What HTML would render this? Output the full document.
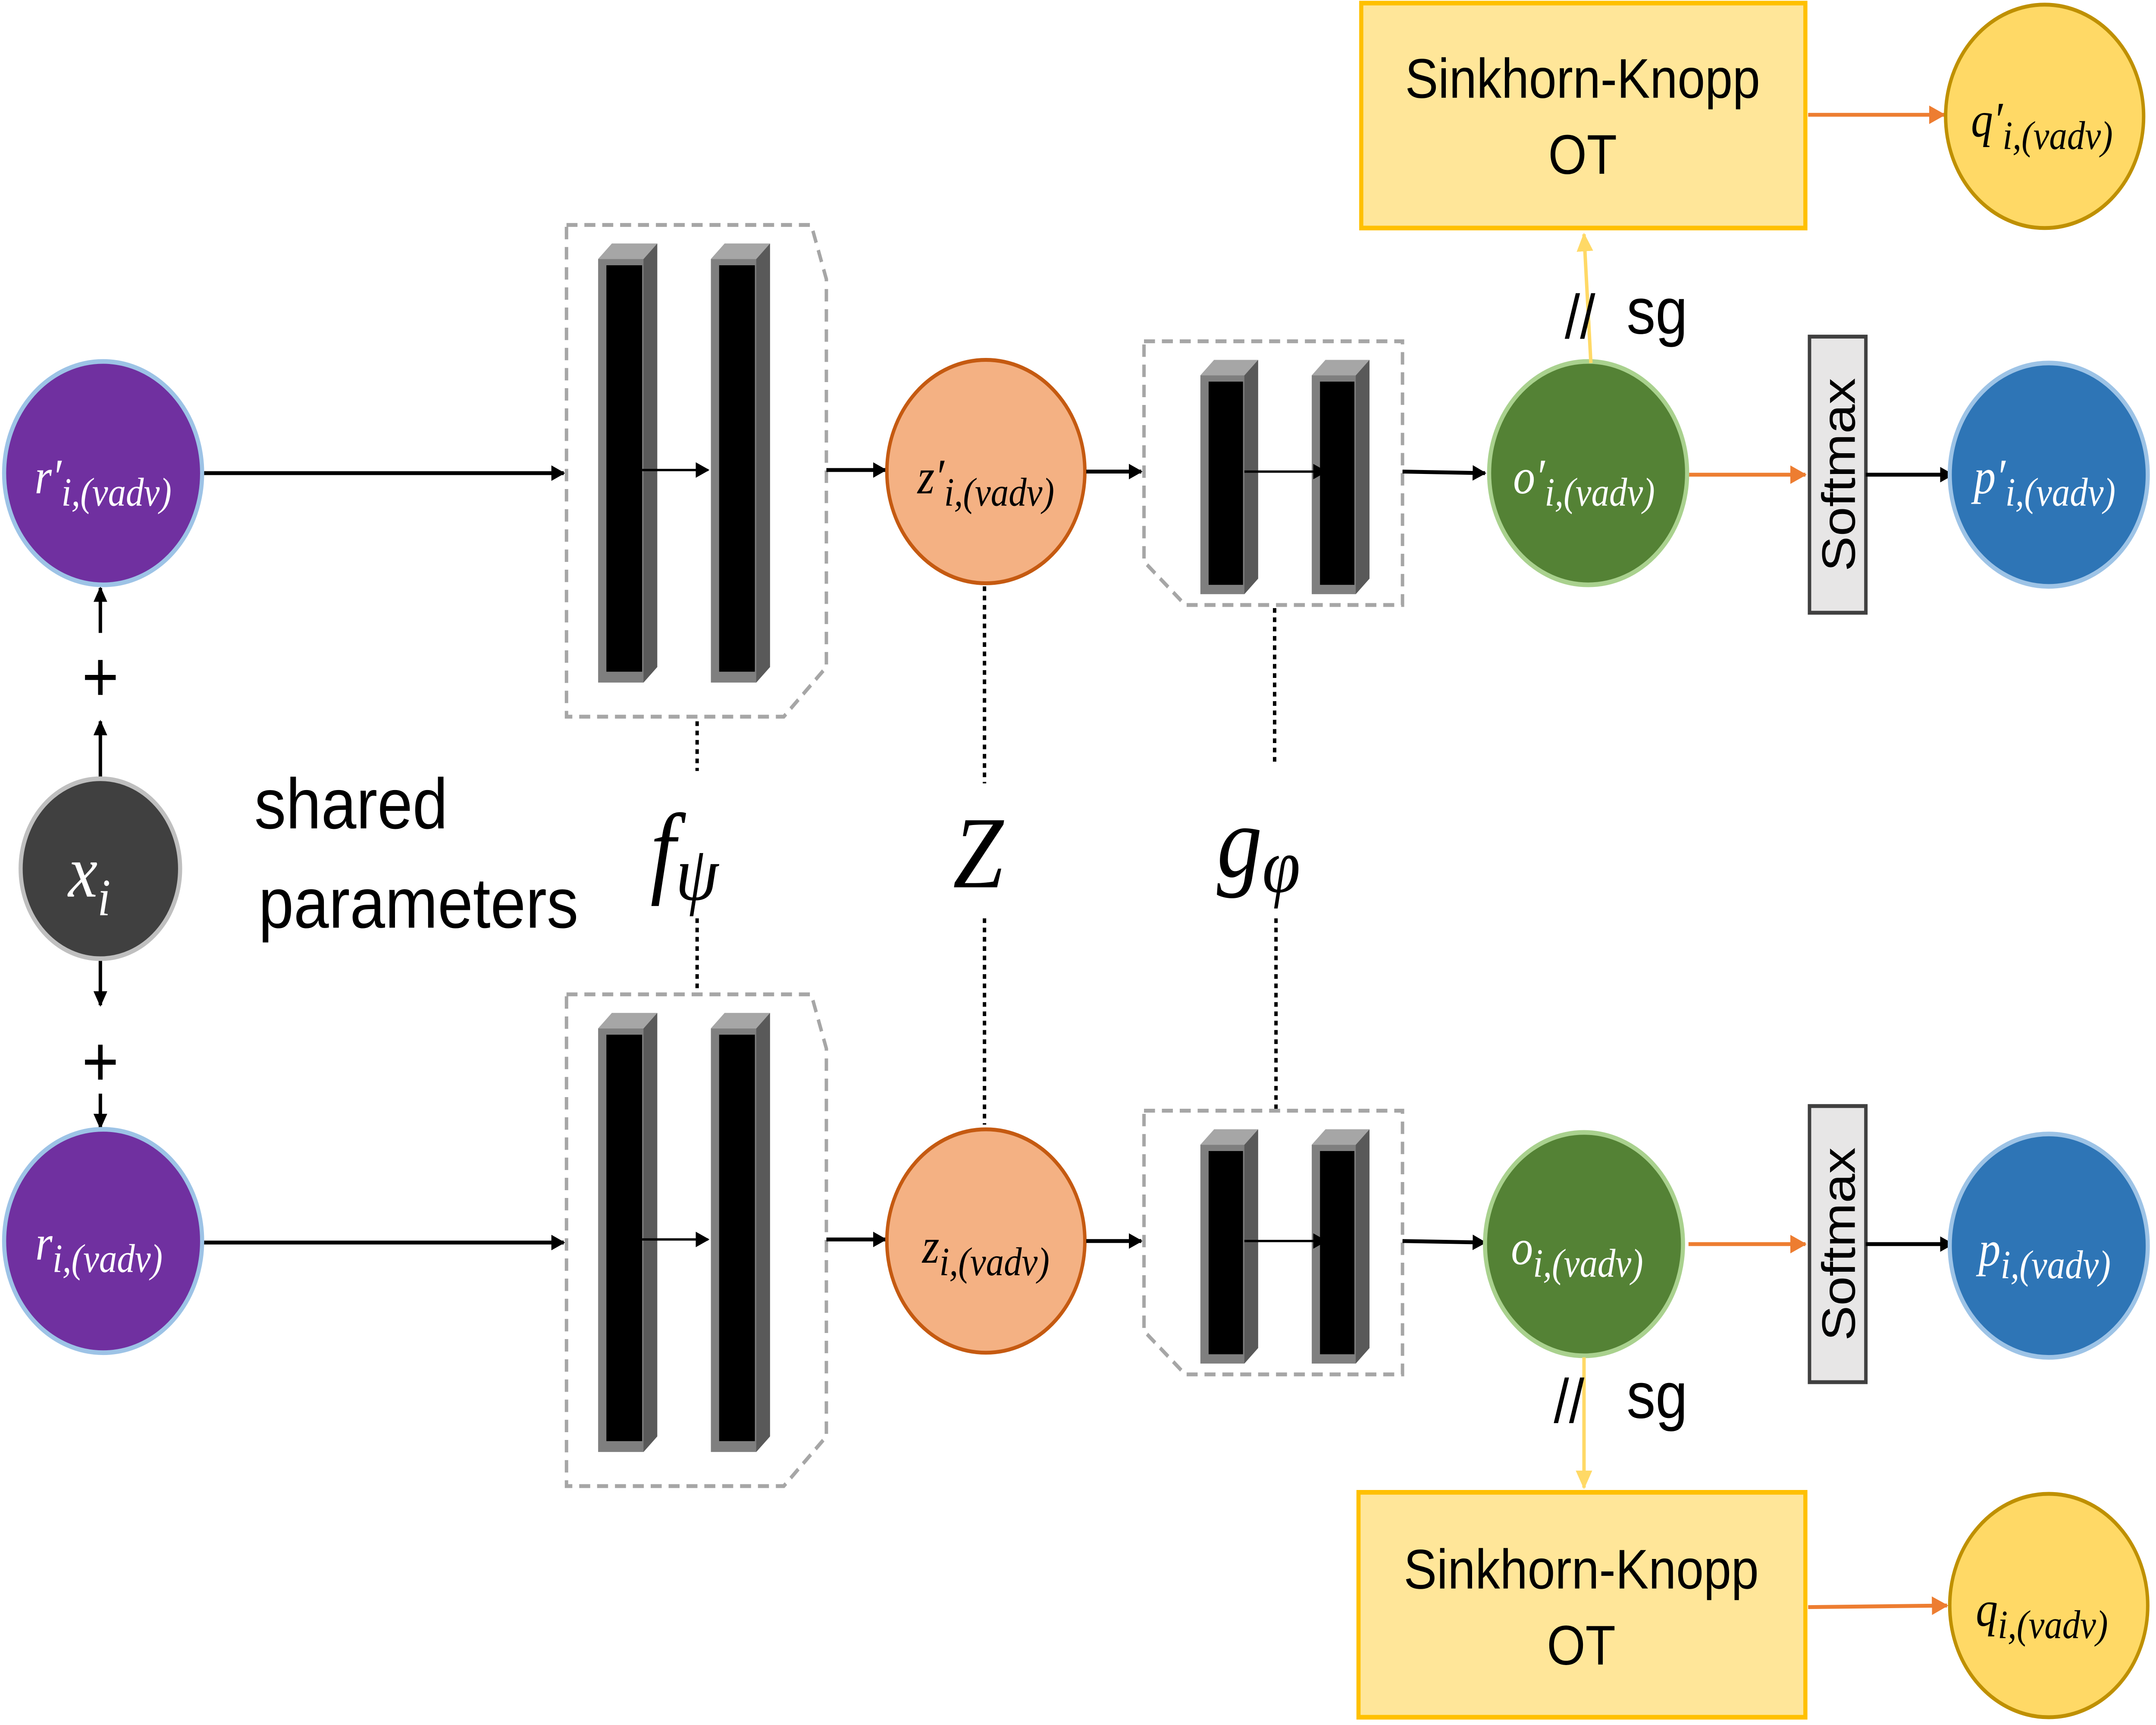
<!DOCTYPE html>
<html><head><meta charset="utf-8"><style>
html,body{margin:0;padding:0;background:#fff;width:100%;height:100%;overflow:hidden;}
svg{display:block;width:100vw;height:100vh;}
.m{font-family:"Liberation Serif",serif;font-style:italic;}
.s{font-family:"Liberation Sans",sans-serif;}
</style></head><body>
<svg viewBox="0 0 1568 1112" preserveAspectRatio="none" xmlns="http://www.w3.org/2000/svg">
<defs>
<marker id="ak" markerWidth="10" markerHeight="10" refX="9" refY="5" orient="auto" markerUnits="userSpaceOnUse"><path d="M0,0 L10,5 L0,10 z" fill="#000"/></marker>
<marker id="ao" markerWidth="12" markerHeight="12" refX="11" refY="6" orient="auto" markerUnits="userSpaceOnUse"><path d="M0,0 L12,6 L0,12 z" fill="#ed7d31"/></marker>
<marker id="ay" markerWidth="12" markerHeight="12" refX="11" refY="6" orient="auto" markerUnits="userSpaceOnUse"><path d="M0,0 L12,6 L0,12 z" fill="#ffd966"/></marker>
<g id="bar">
<path d="M0,10 L10,0 L43,0 L43,273 L33,283 L0,283 z" fill="#7f7f7f"/>
<rect x="6" y="14" width="26" height="262" fill="#000"/>
<path d="M33,10 L43,0 L43,273 L33,283 z" fill="#595959"/>
<path d="M0,10 L10,0 L43,0 L33,10 z" fill="#a6a6a6"/>
</g>
<g id="sbar">
<path d="M0,10 L10,0 L42,0 L42,141 L32,151 L0,151 z" fill="#7f7f7f"/>
<rect x="6" y="14" width="25" height="131" fill="#000"/>
<path d="M32,10 L42,0 L42,141 L32,151 z" fill="#595959"/>
<path d="M0,10 L10,0 L42,0 L32,10 z" fill="#a6a6a6"/>
</g>
</defs>

<g stroke="#000" stroke-width="2.5">
<line x1="73" y1="502" x2="73" y2="465" marker-end="url(#ak)"/>
<line x1="73" y1="408" x2="73" y2="379" marker-end="url(#ak)"/>
<line x1="73" y1="618" x2="73" y2="648" marker-end="url(#ak)"/>
<line x1="73" y1="705" x2="73" y2="727" marker-end="url(#ak)"/>
</g>
<text x="73" y="452" font-size="46" text-anchor="middle" class="s">+</text>
<text x="73" y="700" font-size="46" text-anchor="middle" class="s">+</text>
<circle cx="73" cy="560" r="58" fill="#404040" stroke="#bfbfbf" stroke-width="3"/>
<text x="65" y="578" font-size="48" fill="#fff" class="m" text-anchor="middle">x<tspan font-size="34" dy="12">i</tspan></text>
<text x="185" y="534" font-size="46" class="s">shared</text>
<text x="188" y="598" font-size="46" class="s">parameters</text>

<g stroke="#000" stroke-width="2.5" stroke-dasharray="3,3">
<line x1="507" y1="465" x2="507" y2="497"/><line x1="716" y1="378" x2="716" y2="505"/><line x1="927" y1="392" x2="927" y2="492"/>
<line x1="507" y1="592" x2="507" y2="640"/><line x1="716" y1="592" x2="716" y2="725"/><line x1="928" y1="592" x2="928" y2="715"/>
</g>
<text x="473" y="570" font-size="66" class="m">f<tspan font-size="50" dy="10">ψ</tspan></text>
<text x="693" y="572" font-size="66" class="m">Z</text>
<text x="885" y="565" font-size="66" class="m">g<tspan font-size="50" dy="10">φ</tspan></text>

<g id="row">
<line x1="148" y1="305" x2="410" y2="305" stroke="#000" stroke-width="2.5" marker-end="url(#ak)"/>
<path d="M412,145 L590,145 L601,180 L601,430 L570,462 L412,462 z" fill="none" stroke="#a6a6a6" stroke-width="2.5" stroke-dasharray="8,5"/>
<use href="#bar" x="435" y="157"/><use href="#bar" x="517" y="157"/>
<line x1="467" y1="303" x2="515" y2="303" stroke="#000" stroke-width="1.5" marker-end="url(#ak)"/>
<line x1="601" y1="303" x2="644" y2="303" stroke="#000" stroke-width="2.5" marker-end="url(#ak)"/>
<circle cx="717" cy="304" r="72" fill="#f4b183" stroke="#c55a11" stroke-width="2.5"/>
<line x1="790" y1="304" x2="830" y2="304" stroke="#000" stroke-width="2.5" marker-end="url(#ak)"/>
<path d="M832,220 L1020,220 L1020,390 L862,390 L832,362 z" fill="none" stroke="#a6a6a6" stroke-width="2.5" stroke-dasharray="8,5"/>
<use href="#sbar" x="873" y="232"/><use href="#sbar" x="954" y="232"/>
<line x1="905" y1="304" x2="964" y2="304" stroke="#000" stroke-width="1.5" marker-end="url(#ak)"/>
<line x1="1020" y1="304" x2="1080" y2="305" stroke="#000" stroke-width="2.5" marker-end="url(#ak)"/>
<line x1="1228" y1="306" x2="1313" y2="306" stroke="#ed7d31" stroke-width="2.5" marker-end="url(#ao)"/>
<rect x="1316" y="217" width="41" height="178" fill="#e7e6e6" stroke="#404040" stroke-width="2.5"/>
<text transform="translate(1349,306) rotate(-90)" font-size="34" text-anchor="middle" class="s">Softmax</text>
<line x1="1357" y1="306" x2="1420" y2="306" stroke="#000" stroke-width="2.5" marker-end="url(#ak)"/>
</g>
<use href="#row" x="0" y="496"/>

<circle cx="75" cy="305" r="72" fill="#7030a0" stroke="#9dc3e6" stroke-width="3"/>
<text x="75" y="318" font-size="32" fill="#fff" class="m" text-anchor="middle">r′<tspan font-size="26" dy="8">i,(vadv)</tspan></text>
<circle cx="75" cy="800" r="72" fill="#7030a0" stroke="#9dc3e6" stroke-width="3"/>
<text x="72" y="812" font-size="32" fill="#fff" class="m" text-anchor="middle">r<tspan font-size="26" dy="8">i,(vadv)</tspan></text>

<text x="717" y="318" font-size="32" class="m" text-anchor="middle">z′<tspan font-size="26" dy="8">i,(vadv)</tspan></text>
<text x="717" y="814" font-size="32" class="m" text-anchor="middle">z<tspan font-size="26" dy="8">i,(vadv)</tspan></text>

<circle cx="1155" cy="305" r="72" fill="#548235" stroke="#a9d18e" stroke-width="3"/>
<text x="1152" y="318" font-size="32" fill="#fff" class="m" text-anchor="middle">o′<tspan font-size="26" dy="8">i,(vadv)</tspan></text>
<circle cx="1152" cy="802" r="72" fill="#548235" stroke="#a9d18e" stroke-width="3"/>
<text x="1147" y="815" font-size="32" fill="#fff" class="m" text-anchor="middle">o<tspan font-size="26" dy="8">i,(vadv)</tspan></text>

<circle cx="1490" cy="306" r="72" fill="#2e75b6" stroke="#9dc3e6" stroke-width="3"/>
<text x="1487" y="318" font-size="32" fill="#fff" class="m" text-anchor="middle">p′<tspan font-size="26" dy="8">i,(vadv)</tspan></text>
<circle cx="1490" cy="803" r="72" fill="#2e75b6" stroke="#9dc3e6" stroke-width="3"/>
<text x="1487" y="816" font-size="32" fill="#fff" class="m" text-anchor="middle">p<tspan font-size="26" dy="8">i,(vadv)</tspan></text>

<rect x="990" y="2" width="323" height="145" fill="#ffe699" stroke="#ffc000" stroke-width="3"/>
<text x="1151" y="63" font-size="36" text-anchor="middle" class="s">Sinkhorn-Knopp</text>
<text x="1151" y="112" font-size="36" text-anchor="middle" class="s">OT</text>
<line x1="1157" y1="234" x2="1152" y2="151" stroke="#ffd966" stroke-width="2.5" marker-end="url(#ay)"/>
<text x="1138" y="218" font-size="40" class="s">//</text><text x="1183" y="215" font-size="42" class="s">sg</text>
<line x1="1315" y1="74" x2="1414" y2="74" stroke="#ed7d31" stroke-width="2.5" marker-end="url(#ao)"/>
<circle cx="1487" cy="75" r="72" fill="#ffd966" stroke="#bf9000" stroke-width="2.5"/>
<text x="1485" y="88" font-size="32" class="m" text-anchor="middle">q′<tspan font-size="26" dy="8">i,(vadv)</tspan></text>

<rect x="988" y="962" width="325" height="145" fill="#ffe699" stroke="#ffc000" stroke-width="3"/>
<text x="1150" y="1024" font-size="36" text-anchor="middle" class="s">Sinkhorn-Knopp</text>
<text x="1150" y="1073" font-size="36" text-anchor="middle" class="s">OT</text>
<line x1="1152" y1="875" x2="1152" y2="959" stroke="#ffd966" stroke-width="2.5" marker-end="url(#ay)"/>
<text x="1130" y="917" font-size="40" class="s">//</text><text x="1183" y="914" font-size="42" class="s">sg</text>
<line x1="1315" y1="1036" x2="1416" y2="1035" stroke="#ed7d31" stroke-width="2.5" marker-end="url(#ao)"/>
<circle cx="1490" cy="1035" r="72" fill="#ffd966" stroke="#bf9000" stroke-width="2.5"/>
<text x="1485" y="1048" font-size="32" class="m" text-anchor="middle">q<tspan font-size="26" dy="8">i,(vadv)</tspan></text>
</svg>
</body></html>
